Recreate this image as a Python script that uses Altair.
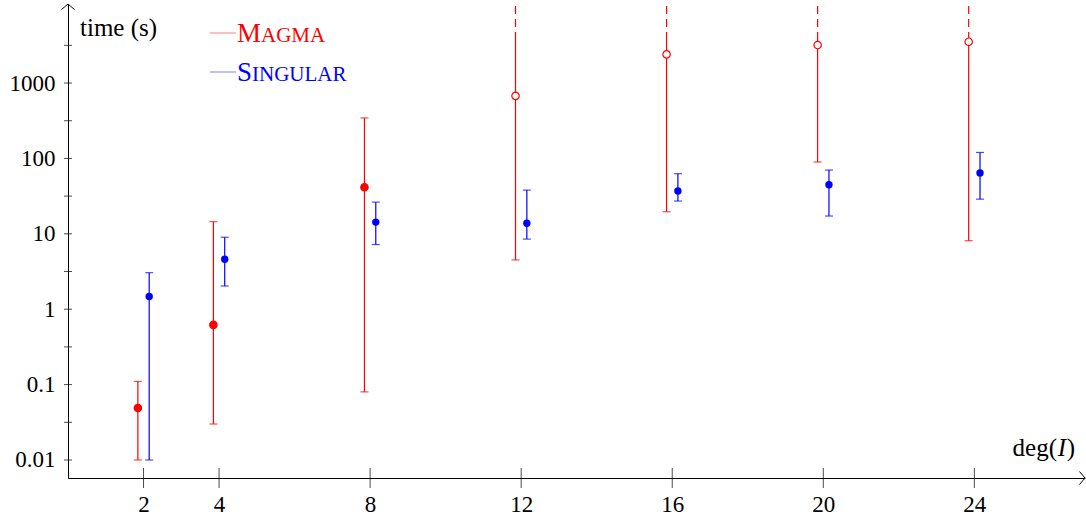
import altair as alt
import pandas as pd

# ---------------- data ----------------
deg = [2, 4, 8, 12, 16, 20, 24]
magma_time = [0.049, 0.62, 41.5, 676, 2400, 3190, 3530]
magma_low = [0.010, 0.030, 0.080, 4.5, 19.6, 89.5, 8.1]
magma_high = [0.11, 14.5, 344, None, None, None, None]   # None: upper end beyond the plot (timeout)
singular_time = [1.47, 4.6, 14.3, 13.8, 37, 44.8, 64]
singular_low = [0.010, 2.03, 7.2, 8.5, 27.2, 17.2, 28.8]
singular_high = [3.05, 9.0, 26.3, 38, 62.7, 70, 120]

y_label_values = [0.01, 0.1, 1, 10, 100, 1000]
y_tick_values = [0.01, 0.0316, 0.1, 0.316, 1, 3.16, 10, 31.6, 100, 316, 1000, 3162]
x_tick_values = deg

RED = "#ff0000"
BLUE = "#0000ff"
FONT = "Liberation Serif, Times New Roman, serif"

# scale geometry
W, H = 1017, 474
Y_MIN, Y_MAX = 10 ** -2.239, 10 ** 4.048
X_MAX = 26.93
SOLID_TOP = 4750      # solid part of open-ended bars stops here
DASH_START = 5530     # dashed continuation starts here
OFFSET = 0.15

# ---------------- tables ----------------
mag = pd.DataFrame({
    "x": [d - OFFSET for d in deg],
    "t": magma_time,
    "lo": magma_low,
    "hi": magma_high,
})
mag["timeout"] = mag["hi"].isna()
mag["hi_solid"] = mag["hi"].fillna(SOLID_TOP)
mag["fill"] = mag["timeout"].map({True: "white", False: RED})
mag_caps_hi = mag[~mag["timeout"]]
mag_dash = mag[mag["timeout"]].assign(d0=DASH_START, d1=Y_MAX)

sing = pd.DataFrame({
    "x": [d + OFFSET for d in deg],
    "t": singular_time,
    "lo": singular_low,
    "hi": singular_high,
})

yt = pd.DataFrame({"v": y_tick_values})
xt = pd.DataFrame({"v": x_tick_values})

# ---------------- scales / axes ----------------
xs = alt.Scale(domain=[0, X_MAX], nice=False, zero=False)
ys = alt.Scale(type="log", domain=[Y_MIN, Y_MAX], nice=False)

x_axis = alt.Axis(values=x_tick_values, ticks=False, grid=False, title=None,
                  domainColor="black", domainWidth=1, labelFont=FONT, labelFontSize=23,
                  labelColor="black", labelPadding=15, labelFlush=False)
y_axis = alt.Axis(values=y_label_values, ticks=False, grid=False, title=None,
                  domainColor="black", domainWidth=1, labelFont=FONT, labelFontSize=23,
                  labelColor="black", labelPadding=13, labelFlush=False, labelOverlap=False,
                  labelExpr="datum.value >= 1 ? format(datum.value, 'd') : format(datum.value, '.2~f')")


def X(f):
    return alt.X(f, type="quantitative", scale=xs, axis=x_axis)


def Y(f):
    return alt.Y(f, type="quantitative", scale=ys, axis=y_axis)


def Y2(f):
    return alt.Y2(f)


layers = []

# axis ticks crossing the axis lines
layers.append(alt.Chart(yt).mark_tick(orient="horizontal", size=8, thickness=1, color="black")
              .encode(x=alt.value(0), y=Y("v")))
layers.append(alt.Chart(xt).mark_tick(orient="vertical", size=20, thickness=1, color="black")
              .encode(x=X("v"), y=alt.value(H)))

# Magma
layers.append(alt.Chart(mag).mark_rule(color=RED, strokeWidth=1.2)
              .encode(x=X("x"), y=Y("lo"), y2=Y2("hi_solid")))
layers.append(alt.Chart(mag_dash).mark_rule(color=RED, strokeWidth=1.2, strokeDash=[8, 5])
              .encode(x=X("x"), y=Y("d0"), y2=Y2("d1")))
layers.append(alt.Chart(mag).mark_tick(orient="horizontal", size=8, thickness=1.2, color=RED)
              .encode(x=X("x"), y=Y("lo")))
layers.append(alt.Chart(mag_caps_hi).mark_tick(orient="horizontal", size=8, thickness=1.2, color=RED)
              .encode(x=X("x"), y=Y("hi")))
layers.append(alt.Chart(mag).mark_circle(size=55, opacity=1, strokeWidth=1.2)
              .encode(x=X("x"), y=Y("t"), fill=alt.Fill("fill:N", scale=None),
                      stroke=alt.value(RED)))

# Singular
layers.append(alt.Chart(sing).mark_rule(color=BLUE, strokeWidth=1.2)
              .encode(x=X("x"), y=Y("lo"), y2=Y2("hi")))
layers.append(alt.Chart(sing).mark_tick(orient="horizontal", size=8, thickness=1.2, color=BLUE)
              .encode(x=X("x"), y=Y("lo")))
layers.append(alt.Chart(sing).mark_tick(orient="horizontal", size=8, thickness=1.2, color=BLUE)
              .encode(x=X("x"), y=Y("hi")))
layers.append(alt.Chart(sing).mark_circle(size=55, opacity=1, color=BLUE)
              .encode(x=X("x"), y=Y("t")))

# axis arrows
one = pd.DataFrame({"a": [0]})
layers.append(alt.Chart(one).mark_point(
    shape="M-1,0.85 Q-0.35,0.3 0,0 Q0.35,0.3 1,0.85", size=169, filled=False,
    color="black", strokeWidth=1, opacity=1).encode(x=alt.value(0), y=alt.value(0)))
layers.append(alt.Chart(one).mark_point(
    shape="M-0.85,-1 Q-0.3,-0.35 0,0 Q-0.3,0.35 -0.85,1", size=169, filled=False,
    color="black", strokeWidth=1, opacity=1).encode(x=alt.value(W), y=alt.value(H)))

# axis titles
layers.append(alt.Chart(one).mark_text(text="time (s)", font=FONT, fontSize=25, align="left",
                                       baseline="alphabetic", color="black")
              .encode(x=alt.value(12), y=alt.value(32)))
layers.append(alt.Chart(one).mark_text(text=")", font=FONT, fontSize=25, align="right",
                                       baseline="alphabetic", color="black")
              .encode(x=alt.value(1007), y=alt.value(452)))
layers.append(alt.Chart(one).mark_text(text="I", font=FONT, fontSize=25, fontStyle="italic",
                                       align="right", baseline="alphabetic", color="black")
              .encode(x=alt.value(998), y=alt.value(452)))
layers.append(alt.Chart(one).mark_text(text="deg(", font=FONT, fontSize=25, align="right",
                                       baseline="alphabetic", color="black")
              .encode(x=alt.value(989), y=alt.value(452)))

# legend
for col, yy, first, rest, w1 in [(RED, 29, "M", "AGMA", 24.0),
                                  (BLUE, 68, "S", "INGULAR", 15.0)]:
    layers.append(alt.Chart(one).mark_rule(color=col, strokeWidth=1, opacity=0.5)
                  .encode(x=alt.value(142), x2=alt.value(168), y=alt.value(yy)))
    layers.append(alt.Chart(one).mark_text(text=first, font=FONT, fontSize=27, align="left",
                                           baseline="alphabetic", color=col)
                  .encode(x=alt.value(169), y=alt.value(yy + 9)))
    layers.append(alt.Chart(one).mark_text(text=rest, font=FONT, fontSize=21, align="left",
                                           baseline="alphabetic", color=col)
                  .encode(x=alt.value(169 + w1), y=alt.value(yy + 9)))

chart = alt.layer(*layers).properties(
    width=W, height=H,
    autosize=alt.AutoSizeParams(type="none"),
    padding={"left": 68, "top": 4, "right": 1, "bottom": 38},
    background="white",
).configure_view(stroke=None)

chart.save("out.html", embed_options={"renderer": "svg", "actions": False})
